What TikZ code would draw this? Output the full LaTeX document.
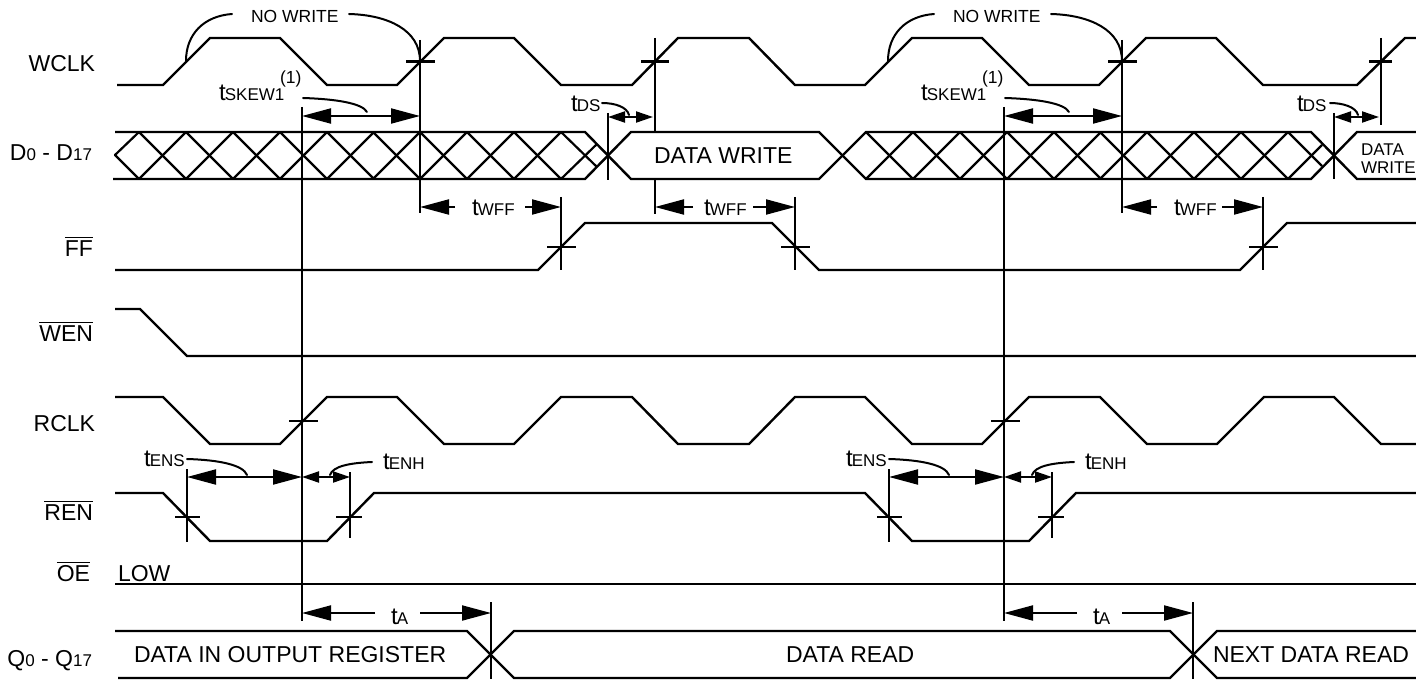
\documentclass[tikz,border=0pt]{standalone}
\usepackage{fontspec}
\setmainfont{Liberation Sans}
\usetikzlibrary{arrows.meta}
\newcommand\flg{\fontsize{23}{23}\selectfont}
\newcommand\fmd{\fontsize{17.5}{17.5}\selectfont}
\newcommand\fsm{\fontsize{17}{17}\selectfont}
\newcommand\tmark[1]{{\fontsize{24}{24}\selectfont t}\kern-0.8pt{\fsm #1}}
\tikzset{
  wire/.style={line width=2.4pt,line join=miter,black},
  thin wire/.style={line width=2.2pt,black},
  txt/.style={inner sep=0pt,outer sep=0pt,anchor=base west,font=\flg},
  lbl/.style={inner sep=0pt,outer sep=0pt,anchor=base east,font=\flg},
  big head/.style={-{Triangle[length=29pt,width=15pt]},line width=2pt},
  big both/.style={{Triangle[length=29pt,width=15pt]}-{Triangle[length=29pt,width=15pt]},line width=2pt},
  small both/.style={{Triangle[length=17pt,width=11pt]}-{Triangle[length=17pt,width=11pt]},line width=2pt},
  leader/.style={line width=2pt,line cap=round},
  over bar/.style={line width=1.6pt}
}
\begin{document}
\begin{tikzpicture}[x=1pt,y=-1pt]
\useasboundingbox (0,0) rectangle (1416,687);
\clip (0,0) rectangle (1416,687);
% ---------- signal labels
\node[lbl] (lwclk) at (95,71.5) {WCLK};
\node[lbl] (ld) at (92,161) {D{\fsm 0} - D{\fsm 17}};
\node[lbl] (lff) at (93,256) {FF};
\node[lbl] (lwen) at (93,341) {WEN};
\node[lbl] (lrclk) at (95,431) {RCLK};
\node[lbl] (lren) at (93,520) {REN};
\node[lbl] (loe) at (90,581) {OE};
\node[lbl] (lq) at (92,666) {Q{\fsm 0} - Q{\fsm 17}};
\foreach \n in {lff,lwen,lren,loe}
  \draw[over bar] ([yshift=2.5pt]\n.north west) -- ([yshift=2.5pt]\n.north east);
% ---------- WCLK
\draw[wire] (117,85) -- (163,85) -- (210,38) -- (280,38) -- (327,85) -- (397,85) -- (444,38) -- (514,38) -- (561,85) -- (632,85) -- (678,38) -- (749,38) -- (795,85) -- (865,85) -- (912,38) -- (982,38) -- (1029,85) -- (1099,85) -- (1146,38) -- (1216,38) -- (1263,85) -- (1357,85) -- (1405,38) -- (1416,38);
% ---------- D bus
\draw[wire] (115,132) -- (585,132) -- (631,179) -- (819,179) -- (866,132) -- (1311,132) -- (1357,179) -- (1416,179);
\draw[wire] (113,179) -- (585,179) -- (631,132) -- (819,132) -- (866,179) -- (1311,179) -- (1357,132) -- (1416,132);
\draw[thin wire,line join=round] (139,132) -- (115,155) -- (139,179);
\foreach \x in {139,186,233,280,327,373,420,467,514,866,913,960,1007,1054,1100,1147,1194,1241} {
  \draw[thin wire] (\x,132) -- ++(47,47);
  \draw[thin wire] (\x,179) -- ++(47,-47);
}
\draw[thin wire] (561,132) -- (597,167);
\draw[thin wire] (561,179) -- (597,144);
\draw[thin wire] (1288,132) -- (1322,166);
\draw[thin wire] (1288,179) -- (1322,145);
\node[txt] (dw) at (654,163.5) {DATA WRITE};
\node[txt,font=\fsm] (dw1) at (1361,156) {DATA};
\node[txt,font=\fsm] (dw2) at (1361,174) {WRITE};
% ---------- FF
\draw[wire] (115,270) -- (538,270) -- (585,223) -- (772,223) -- (819,270) -- (1240,270) -- (1287,223) -- (1416,223);
% ---------- WEN
\draw[wire] (115,309) -- (140,309) -- (187,356) -- (1416,356);
% ---------- RCLK
\draw[wire] (115,397) -- (163,397) -- (210,444) -- (280,444) -- (327,397) -- (397,397) -- (444,444) -- (514,444) -- (561,397) -- (632,397) -- (678,444) -- (749,444) -- (795,397) -- (865,397) -- (912,444) -- (982,444) -- (1029,397) -- (1100,397) -- (1147,444) -- (1217,444) -- (1264,397) -- (1334,397) -- (1381,444) -- (1416,444);
% ---------- REN
\draw[wire] (115,493) -- (163,493) -- (210,541) -- (327,541) -- (374,493) -- (865,493) -- (912,541) -- (1029,541) -- (1076,493) -- (1416,493);
% ---------- OE
\draw[wire] (115,584) -- (1416,584);
\node[txt] (low) at (118,581) {LOW};
% ---------- Q bus
\draw[wire] (115,631) -- (467,631) -- (514,678) -- (1170,678) -- (1217,631) -- (1416,631);
\draw[wire] (118,678) -- (467,678) -- (514,631) -- (1170,631) -- (1217,678) -- (1416,678);
\node[txt] (qa) at (134,662.5) {DATA IN OUTPUT REGISTER};
\node[txt] (qb) at (786,662.5) {DATA READ};
\node[txt] (qc) at (1213,662.5) {NEXT DATA READ};
% ---------- repeated groups (offset 702)
\foreach \d in {0,702} {
  \begin{scope}[xshift=\d pt]
    % no write
    \node[txt,font=\fmd] (nw\d) at (251,23) {NO WRITE};
    \draw[leader] (232,14) .. controls (204,16) and (186,34) .. (186,61);
    \draw[leader] (349,14) .. controls (388,15) and (420,30) .. (420,61);
    % skew
    \draw[wire] (302,107) -- (302,621);
    \draw[wire] (420,40) -- (420,213);
    \draw[wire] (406,61.5) -- (435,61.5);
    \draw[big both] (302,116) -- (420,116);
    \node[txt] (sk\d) at (219,101) {\tmark{SKEW1}};
    \node[txt,font=\fmd] (sk1\d) at (280,84) {(1)};
    \draw[leader] (303,98) .. controls (335,99) and (362,103) .. (367,112);
    % twff
    \draw[big head] (455,207) -- (420,207);
    \draw[wire] (561,197) -- (561,270);
    \draw[wire] (547,247) -- (576,247);
    % rclk cross
    \draw[wire] (289,421) -- (318,421);
    % ens / enh
    \draw[wire] (187,469) -- (187,542);
    \draw[wire] (175,517) -- (200,517);
    \draw[wire] (350,472) -- (350,538);
    \draw[wire] (336,517) -- (362,517);
    \draw[big both] (187,477) -- (302,477);
    \draw[small both] (302,477) -- (350,477);
    \node[txt] (ens\d) at (144,466) {\tmark{ENS}};
    \node[txt] (enh\d) at (383,469) {\tmark{ENH}};
    \draw[leader] (187,459) .. controls (220,460) and (243,465) .. (247,475);
    \draw[leader] (372,462) .. controls (350,463) and (333,466) .. (330,475);
    % ta
    \draw[wire] (491,602) -- (491,679);
    \draw[big head] (375,613) -- (302,613);
    \draw[big head] (420,613) -- (491,613);
    \node[txt] (ta\d) at (391,624) {\tmark{A}};
  \end{scope}
}
% ---------- twff details
\draw[big head] (525,207) -- (561,207);
\node[txt] (wf0) at (472,215) {\tmark{WFF}};
\draw[big head] (1222,207) -- (1263,207);
\node[txt] (wf2) at (1174,215) {\tmark{WFF}};
\draw[wire] (655,38) -- (655,132);
\draw[wire] (655,179) -- (655,214);
\draw[wire] (641,61.5) -- (669,61.5);
\draw[wire] (795,197) -- (795,270);
\draw[wire] (781,247) -- (810,247);
\draw[big head] (693,207) -- (655,207);
\draw[big head] (753,207) -- (795,207);
\node[txt] (wf1) at (704,215) {\tmark{WFF}};
\draw[wire] (1381,38) -- (1381,125);
\draw[wire] (1369,61.5) -- (1392,61.5);
% ---------- tds
\draw[wire] (608,113) -- (608,180);
\draw[small both] (608,117) -- (653,117);
\node[txt] (ds1) at (571,112) {\tmark{DS}};
\draw[leader] (602,103) .. controls (615,103) and (627,107) .. (629,115);
\draw[wire] (1334,113) -- (1334,179);
\draw[small both] (1334,117) -- (1379,117);
\node[txt] (ds2) at (1297,112) {\tmark{DS}};
\draw[leader] (1330,103) .. controls (1343,103) and (1356,107) .. (1358,115);
\end{tikzpicture}
\end{document}
